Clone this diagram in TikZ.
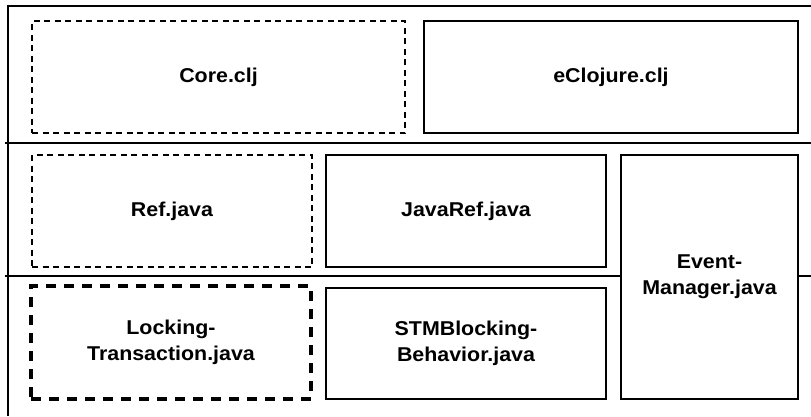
\documentclass[tikz,border=0pt]{standalone}
\usepackage{fontspec}
\setmainfont{Liberation Sans}[FakeStretch=1.07]
\begin{document}
\begin{tikzpicture}[x=1pt,y=-1pt,
  frameline/.style={line width=1.9pt},
  filebox/.style={draw, line width=1.6pt, fill=white, align=center,
    inner sep=0pt, font=\bfseries\fontsize{20}{26}\selectfont},
  finedash/.style={filebox, line width=1.5pt, dash pattern=on 6pt off 4.5pt},
  thickdash/.style={filebox, line width=3.2pt, dash pattern=on 10pt off 8pt},
]
\useasboundingbox (0,0) rectangle (811,416);

% layer frame
\coordinate (fbl) at (8,416);
\coordinate (ftl) at (8,6);
\coordinate (ftr) at (811,6);
\coordinate (s1l) at (5,143);
\coordinate (s1r) at (811,143);
\coordinate (s2l) at (5,276);
\coordinate (s2r) at (811,276);
\draw[frameline] (fbl) -- (ftl) -- (ftr);
\draw[frameline] (s1l) -- (s1r);
\draw[frameline] (s2l) -- (s2r);

% top layer
\node[finedash, minimum width=373pt, minimum height=112pt] (core) at (218.5,77) {Core.clj};
\node[filebox, minimum width=374pt, minimum height=112pt] (eclj) at (611,77) {eClojure.clj};

% middle layer
\node[finedash, minimum width=280pt, minimum height=112pt] (ref) at (172,211) {Ref.java};
\node[filebox, minimum width=280pt, minimum height=112pt] (javaref) at (466,211) {JavaRef.java};
\node[filebox, minimum width=177pt, minimum height=244pt] (event) at (709.5,277) {Event-\\Manager.java};

% bottom layer
\node[thickdash, minimum width=280pt, minimum height=113pt] (locking) at (171,342.5) {Locking-\\Transaction.java};
\node[filebox, minimum width=280pt, minimum height=111pt] (stm) at (466,343.5) {STMBlocking-\\Behavior.java};
\end{tikzpicture}
\end{document}
